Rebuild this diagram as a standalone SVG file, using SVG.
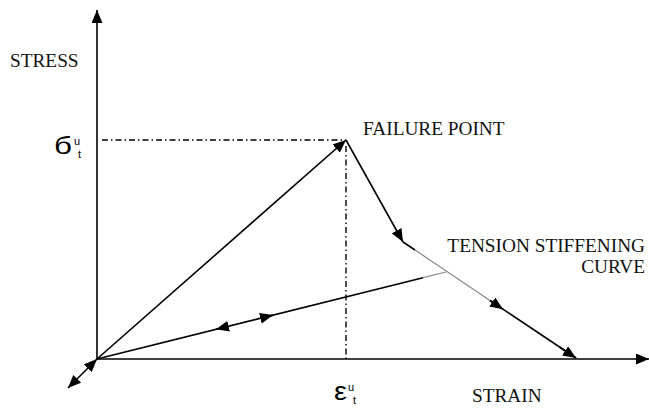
<svg xmlns="http://www.w3.org/2000/svg" width="649" height="408" viewBox="0 0 649 408">
<defs>
<style>
.ln{stroke:#000;stroke-width:1.6;fill:none}
.gr{stroke:#888;stroke-width:1.2;fill:none}
.dd{stroke:#000;stroke-width:1.4;fill:none;stroke-dasharray:6 3 1.5 3}
.lbl{font-family:"Liberation Serif","Times New Roman",serif;font-size:19.3px;fill:#111}
.sym{font-family:"Liberation Sans",Arial,sans-serif;fill:#000}
.sc{font-family:"Liberation Sans",Arial,sans-serif;fill:#000;font-size:11px}
</style>
<marker id="ah" markerUnits="userSpaceOnUse" markerWidth="13" markerHeight="11" refX="13" refY="5.5" orient="auto">
<path d="M0,0 L13,5.5 L0,11 z" fill="#000"/>
</marker>
</defs>
<rect width="649" height="408" fill="#fff"/>
<g id="axes">
<path class="ln" d="M97,359 V10" marker-end="url(#ah)"/>
<path class="ln" d="M97,359 H649" marker-end="url(#ah)"/>
<path class="ln" d="M82,374 L68,388" marker-end="url(#ah)"/>
<path class="ln" d="M82,374 L97,359" marker-end="url(#ah)"/>
</g>
<g id="guides">
<path class="dd" d="M102,140 H346"/>
<path class="dd" d="M346,146 V359"/>
</g>
<g id="connectors">
<path class="ln" d="M97,359 L346,140" marker-end="url(#ah)"/>
<path class="ln" d="M346,140 L403,242" marker-end="url(#ah)"/>
<path class="ln" d="M403,242 L415,250"/>
<path class="gr" d="M415,250 L490,300.5"/>
<path class="ln" d="M490,300.5 L576,358"/>
<path class="ln" d="M490,300.5 L503,309.3" marker-end="url(#ah)"/>
<path class="ln" d="M560,347.5 L576,358" marker-end="url(#ah)"/>
<path class="ln" d="M97,359 L423,277.7"/>
<path class="gr" d="M423,277.7 L446,272"/>
<path class="ln" d="M228,326.4 L216,329.3" marker-end="url(#ah)"/>
<path class="ln" d="M261,318.1 L273,315.1" marker-end="url(#ah)"/>
</g>
<g id="labels">
<text class="lbl" x="10" y="67">STRESS</text>
<text class="lbl" x="363" y="135">FAILURE POINT</text>
<text class="lbl" x="645" y="252" text-anchor="end">TENSION STIFFENING</text>
<text class="lbl" x="645" y="273" text-anchor="end">CURVE</text>
<text class="lbl" x="472" y="402">STRAIN</text>
<text class="sym" x="54" y="153.5" font-size="24" textLength="18" lengthAdjust="spacingAndGlyphs">б</text>
<text class="sc" x="74" y="144.5" font-size="10">u</text>
<text class="sc" x="78" y="158">t</text>
<text class="sym" x="334" y="400" font-size="26" textLength="13" lengthAdjust="spacingAndGlyphs">ε</text>
<text class="sc" x="348" y="390.5" font-size="10">u</text>
<text class="sc" x="353" y="404">t</text>
</g>
</svg>
